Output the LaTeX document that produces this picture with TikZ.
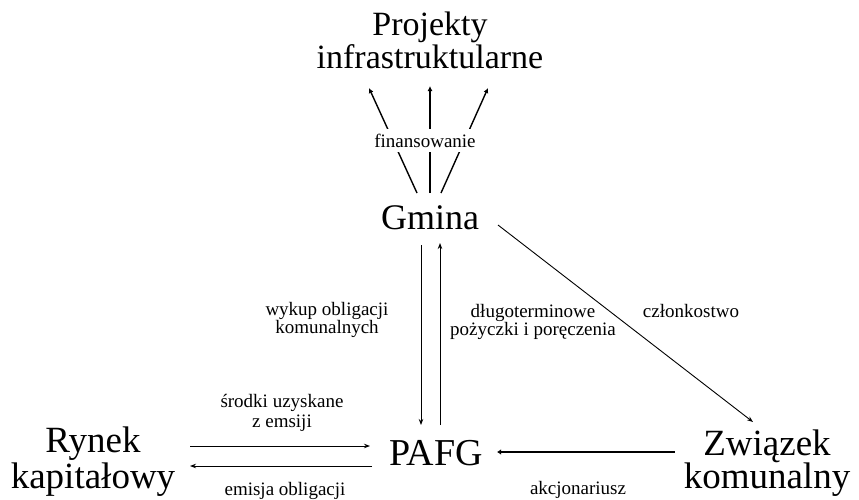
\documentclass[tikz,border=0pt]{standalone}
\usepackage{fontspec}
\setmainfont{Liberation Serif}
\usetikzlibrary{arrows.meta,calc}
\begin{document}
\begin{tikzpicture}[x=1pt,y=-1pt,
  big/.style={font=\fontsize{36}{34}\selectfont, align=center, inner sep=0pt, anchor=base},
  lbl/.style={font=\fontsize{19}{18}\selectfont, align=center, inner sep=0pt, anchor=base},
  thinarrow/.style={line width=0.9pt, -{Stealth[length=6pt,width=4.5pt]}},
  fan/.style={line width=1.4pt, -{Latex[length=5pt,width=5pt]}},
  heavy/.style={line width=2.6pt, {Latex[length=4pt,width=5.5pt]}-},
]
\useasboundingbox (0,0) rectangle (859,499);

% main actors (base anchor = baseline of the last line)
\node[big, font=\fontsize{34}{33}\selectfont] (proj) at (430,68) {Projekty\\infrastruktularne};
\node[big] (gmina) at (430,229) {Gmina};
\node[big, font=\fontsize{38}{36}\selectfont] (pafg) at (436,465) {PAFG};
\node[big, font=\fontsize{37}{36}\selectfont] (rynek) at (93,488) {Rynek\\kapitałowy};
\node[big, font=\fontsize{37}{33}\selectfont] (zwiazek) at (767,488) {Związek\\komunalny};

% financing fan from Gmina up to the projects
\draw[fan] ($(gmina.base)+(-13,-36)$) -- ($(proj.base)+(-61,20)$);
\draw[fan] ($(gmina.base)+(0,-36)$) -- ($(proj.base)+(0,18)$);
\draw[fan] ($(gmina.base)+(11,-36)$) -- ($(proj.base)+(58,20)$);
\node[lbl, fill=white, inner ysep=5pt, inner xsep=2pt] (fin) at (425,147) {finansowanie};

% Gmina <-> PAFG
\draw[thinarrow] ($(gmina.base)+(-9,16)$) -- ($(pafg.base)+(-15,-40)$);
\draw[thinarrow] ($(pafg.base)+(4,-40)$) -- ($(gmina.base)+(10,14)$);

% Rynek <-> PAFG
\draw[thinarrow] ($(rynek.base)+(97,-42)$) -- ($(pafg.base)+(-66,-19)$);
\draw[thinarrow] ($(pafg.base)+(-64,1)$) -- ($(rynek.base)+(97,-22)$);

% Gmina -> Zwiazek
\draw[thinarrow] ($(gmina.base)+(68,-4)$) -- ($(zwiazek.base)+(-14,-66)$);

% Zwiazek -> PAFG (shareholder)
\draw[heavy] ($(pafg.base)+(61,-13)$) -- ($(zwiazek.base)+(-92,-36)$);

% relation labels
\node[lbl] (wykup) at (327,333) {wykup obligacji\\komunalnych};
\node[lbl] (dlugo) at (533,335) {długoterminowe\\pożyczki i poręczenia};
\node[lbl] (czlon) at (691,317) {członkostwo};
\node[lbl, font=\fontsize{19}{20}\selectfont] (srodki) at (282,427) {środki uzyskane\\z emsiji};
\node[lbl] (emisja) at (285,495) {emisja obligacji};
\node[lbl] (akcj) at (578,494) {akcjonariusz};
\end{tikzpicture}
\end{document}
